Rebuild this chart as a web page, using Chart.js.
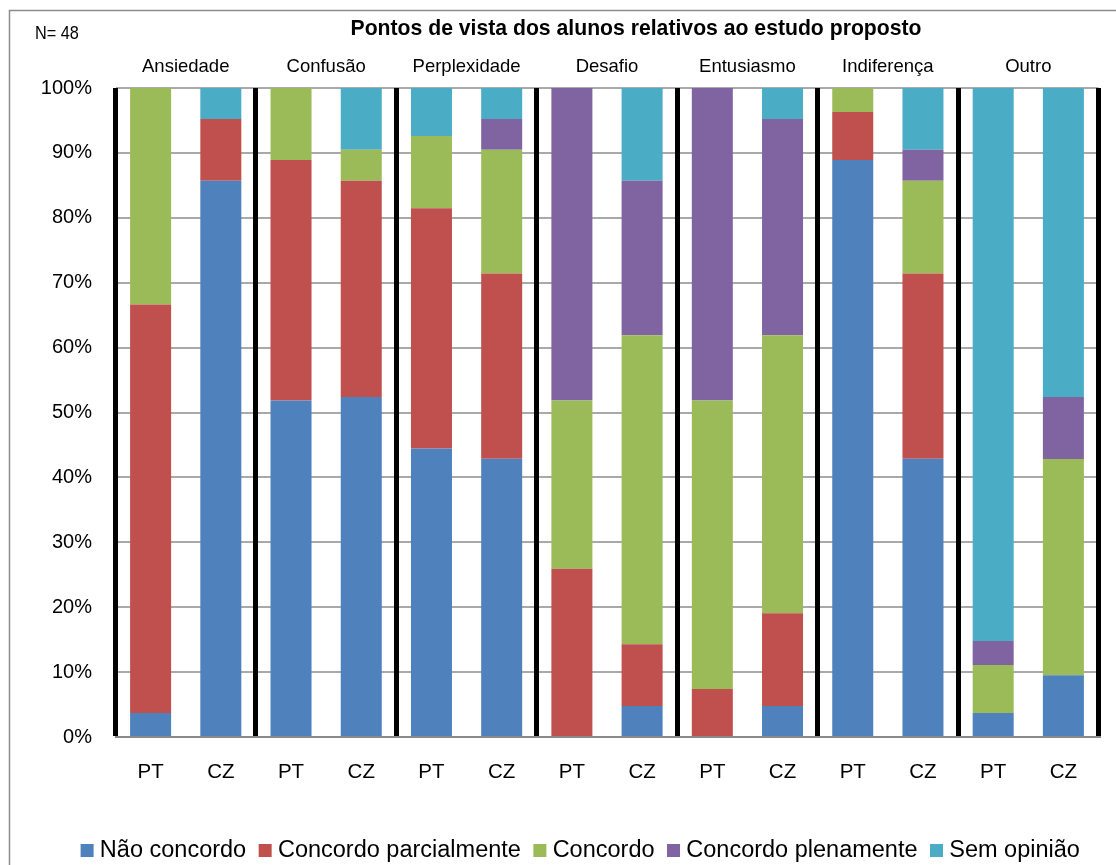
<!DOCTYPE html>
<html>
<head>
<meta charset="utf-8">
<title>Pontos de vista dos alunos relativos ao estudo proposto</title>
<script src="https://cdn.jsdelivr.net/npm/chart.js@4.4.1/dist/chart.umd.min.js"></script>
<style>
  html, body { margin: 0; padding: 0; background: #fff; overflow: hidden; width: 1116px; height: 865px; }
  #wrap { position: absolute; left: 0; top: 0; width: 1166px; height: 880px; }
</style>
</head>
<body>
<div id="wrap"><canvas id="chart" width="1166" height="880"></canvas></div>
<script>
// Themes (one pair of bars per theme: PT and CZ students)
const groups = ['Ansiedade', 'Confusão', 'Perplexidade', 'Desafio', 'Entusiasmo', 'Indiferença', 'Outro'];
const countries = ['PT', 'CZ'];
const barLabels = ['PT', 'CZ', 'PT', 'CZ', 'PT', 'CZ', 'PT', 'CZ', 'PT', 'CZ', 'PT', 'CZ', 'PT', 'CZ'];

// Share of answers (%) per bar, in the order of barLabels
const naoConcordo        = [3.70, 85.71, 51.85, 52.38, 44.44, 42.86, 0.00, 4.76, 0.00, 4.76, 88.89, 42.86, 3.70, 9.52];
const concordoParcial    = [62.96, 9.52, 37.04, 33.33, 37.04, 28.57, 25.93, 9.52, 7.41, 14.29, 7.41, 28.57, 0.00, 0.00];
const concordo           = [33.33, 0.00, 11.11, 4.76, 11.11, 19.05, 25.93, 47.62, 44.44, 42.86, 3.70, 14.29, 7.41, 33.33];
const concordoPlenamente = [0.00, 0.00, 0.00, 0.00, 0.00, 4.76, 48.15, 23.81, 48.15, 33.33, 0.00, 4.76, 3.70, 9.52];
const semOpiniao         = [0.00, 4.76, 0.00, 9.52, 7.41, 4.76, 0.00, 14.29, 0.00, 4.76, 0.00, 9.52, 85.19, 47.62];

const seriesNames = ['Não concordo', 'Concordo parcialmente', 'Concordo', 'Concordo plenamente', 'Sem opinião'];
const seriesColors = ['#4F81BD', '#C0504D', '#9BBB59', '#8064A2', '#4BACC6'];
const seriesValues = [naoConcordo, concordoParcial, concordo, concordoPlenamente, semOpiniao];

const yTicks = [0, 10, 20, 30, 40, 50, 60, 70, 80, 90, 100];

const titleText = 'Pontos de vista dos alunos relativos ao estudo proposto';
const sampleText = 'N= 48';

const FONT = "'Liberation Sans', Arial, Helvetica, sans-serif";
Chart.defaults.font.family = FONT;
Chart.defaults.color = '#000';

// Frame, heading and sample size drawn around the plot
const framePlugin = {
  id: 'frame',
  beforeDraw(chart) {
    const ctx = chart.ctx;
    ctx.save();
    ctx.strokeStyle = '#8c8c8c';
    ctx.lineWidth = 1.5;
    ctx.strokeRect(9.5, 10.5, 2000, 2000);
    ctx.restore();
  },
  afterDraw(chart) {
    const ctx = chart.ctx;
    ctx.save();
    ctx.fillStyle = '#000';
    ctx.textBaseline = 'alphabetic';
    ctx.textAlign = 'center';
    ctx.font = 'bold 21.2px ' + FONT;
    ctx.fillText(titleText, 636, 35);
    // sample size, set in a condensed face
    ctx.textAlign = 'left';
    ctx.font = '18.5px ' + FONT;
    ctx.translate(35, 39);
    ctx.scale(0.88, 1);
    ctx.fillText(sampleText, 0, 0);
    ctx.restore();
  }
};

const datasets = seriesNames.map((name, i) => ({
  label: name,
  data: seriesValues[i],
  backgroundColor: seriesColors[i],
  borderWidth: 0,
  barPercentage: 0.584,
  categoryPercentage: 1.0
}));

new Chart(document.getElementById('chart'), {
  type: 'bar',
  data: { labels: barLabels, datasets },
  plugins: [framePlugin],
  options: {
    responsive: false,
    animation: false,
    layout: { padding: { left: 0, right: 0, top: 0, bottom: 7.75 } },
    scales: {
      x: {
        type: 'category',
        stacked: true,
        offset: true,
        position: 'bottom',
        grid: {
          offset: true,
          drawTicks: false,
          lineWidth: 5,
          z: -1,
          color: (c) => (c.index === undefined || c.index % 2 === 0) ? '#000' : 'rgba(0,0,0,0)'
        },
        border: { display: true, color: '#8a8a8a', width: 2, z: 1 },
        ticks: { font: { size: 20.5 }, padding: 23.5, color: '#000', maxRotation: 0, autoSkip: false },
        afterFit: (s) => { s.height = 83.75; }
      },
      x2: {
        type: 'category',
        labels: groups,
        position: 'top',
        offset: true,
        display: true,
        grid: { display: false, drawTicks: false },
        border: { display: false },
        ticks: { font: { size: 18.5 }, padding: 10.4, color: '#000', maxRotation: 0, autoSkip: false },
        afterFit: (s) => { s.height = 88; }
      },
      y: {
        stacked: true,
        min: 0,
        max: 100,
        position: 'left',
        afterBuildTicks: (s) => { s.ticks = yTicks.map(v => ({ value: v })); },
        ticks: { font: { size: 20 }, padding: 23.5, color: '#000', callback: (v) => v + '%' },
        grid: { color: '#a9a9a9', lineWidth: 2, drawTicks: false, z: -2 },
        border: { display: false },
        afterFit: (s) => { s.width = 115.5; }
      },
      y2: {
        type: 'linear',
        position: 'right',
        display: true,
        grid: { display: false, drawTicks: false },
        border: { display: false },
        ticks: { display: false },
        afterFit: (s) => { s.width = 67.5; }
      }
    },
    plugins: {
      title: { display: false },
      tooltip: { enabled: false },
      legend: {
        display: true,
        position: 'bottom',
        align: 'center',
        labels: {
          usePointStyle: true,
          pointStyle: 'rect',
          boxWidth: 2,
          boxHeight: 13,
          padding: 18,
          color: '#000',
          font: { size: 23.5 }
        }
      }
    }
  }
});
</script>
</body>
</html>
